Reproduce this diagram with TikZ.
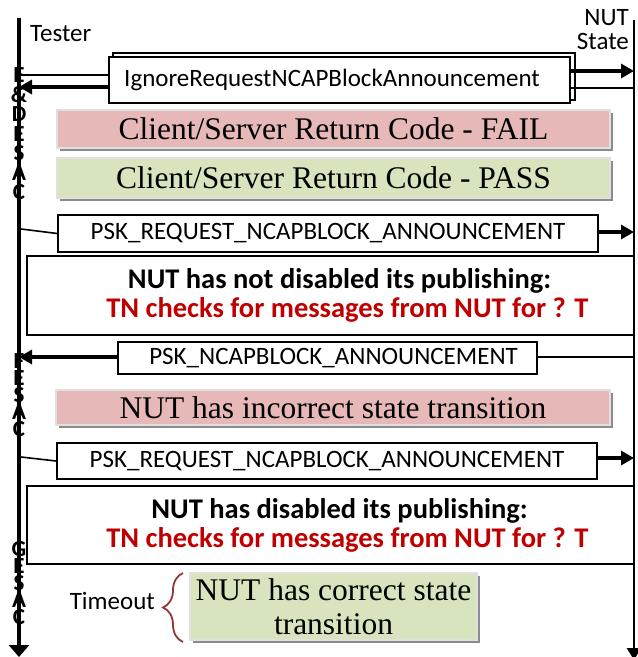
\documentclass[tikz,border=0pt]{standalone}
\usepackage{fontspec}
\setmainfont{Carlito}
\newfontfamily\serifface{Liberation Serif}
\usetikzlibrary{arrows.meta,shadows,decorations.pathreplacing}
\definecolor{failpink}{HTML}{E6B9B8}
\definecolor{passgreen}{HTML}{D7E4BD}
\definecolor{tnred}{HTML}{C00000}
\definecolor{bracered}{HTML}{953735}
\tikzset{
  msgbox/.style={draw, line width=1.6pt, fill=white, inner sep=0pt,
    font=\fontsize{25}{28}\selectfont},
  bigbox/.style={draw, line width=1.8pt, fill=white, inner sep=0pt, align=center,
    font=\bfseries\fontsize{28.5}{29}\selectfont},
  resbox/.style={draw=black!12, line width=1.5pt, inner sep=0pt, align=center,
    font=\serifface\fontsize{31.5}{34}\selectfont,
    drop shadow={shadow xshift=3pt, shadow yshift=-3pt, fill=black!45, opacity=1}},
  thkarrow/.style={line width=4pt, -{Triangle[length=13pt,width=14pt]}},
  thinline/.style={line width=1.6pt},
  casetxt/.style={align=center, inner sep=0pt, font=\bfseries\fontsize{23}{17}\selectfont},
  lifeline/.style={line width=4.5pt, -{Triangle[length=12pt,width=20pt]}},
  lbl/.style={inner sep=0pt, font=\fontsize{25}{24}\selectfont},
}
\begin{document}
\begin{tikzpicture}[x=1pt,y=-1pt]
\useasboundingbox (0,0) rectangle (638,657);
\fill[white] (0,0) rectangle (638,657);

% headers
\node[lbl, anchor=west] (tester) at (30,34) {Tester};
\node[lbl, anchor=east, align=right] (nut) at (629,30) {NUT\\State};

% lifeline coordinates
\coordinate (Ltop) at (19,18);
\coordinate (Lbot) at (19,657);
\coordinate (Rtop) at (634,20);
\coordinate (Rbot) at (634,660);

% case labels (behind the tester line)
\node[casetxt, font=\bfseries\fontsize{23}{19.5}\selectfont] (caseDE) at (19,134) {E\\\&\\D\\E\\S\\A\\C};
\node[casetxt] (caseF) at (19,395) {F\\E\\S\\A\\C};
\node[casetxt] (caseG) at (19,583) {G\\E\\S\\A\\C};

% IgnoreRequest message
\draw[line width=1.2pt] (113,53) rectangle (575,100);
\node[msgbox, line width=2.4pt, minimum width=461pt, minimum height=46pt] (ign) at (339.5,80) {IgnoreRequestNCAPBlockAnnouncement\hspace*{15pt}};
\coordinate (La) at (19,75);
\coordinate (Lb) at (19,87);
\coordinate (Ra) at (634,71);
\coordinate (Rb) at (634,88);
\draw[thinline] (La) -- (ign.west |- La);
\draw[thkarrow] (ign.west |- Lb) -- (Lb);
\draw[thkarrow] (ign.east |- Ra) -- (Ra);
\draw[thinline] (ign.east |- Rb) -- (Rb);

% return codes
\node[resbox, fill=failpink, minimum width=553pt, minimum height=38pt] (fail) at (333.5,129) {Client/Server Return Code - FAIL};
\node[resbox, fill=passgreen, minimum width=553pt, minimum height=40pt] (pass) at (333.5,178) {Client/Server Return Code - PASS};

% first request
\node[msgbox, minimum width=540pt, minimum height=37pt] (req1) at (328,233.5) {PSK\_REQUEST\_NCAPBLOCK\_ANNOUNCEMENT};
\coordinate (Lc) at (21,229);
\coordinate (Rc) at (634,232);
\draw[thinline] (Lc) -- (req1.west);
\draw[thkarrow] (req1.east |- Rc) -- (Rc);

\node[bigbox, minimum width=607pt, minimum height=79pt] (chk1) at (330.5,295.5)
  {\hspace*{18pt}NUT has not disabled its publishing:\\\hspace*{34pt}\textcolor{tnred}{TN checks for messages from NUT for ? T}};

% announcement
\node[msgbox, minimum width=419pt, minimum height=32pt] (ann) at (327.5,358) {\hspace*{12pt}PSK\_NCAPBLOCK\_ANNOUNCEMENT};
\coordinate (Ld) at (19,357);
\coordinate (Rd) at (634,357);
\draw[thkarrow] (ann.west |- Ld) -- (Ld);
\draw[thinline] (ann.east |- Rd) -- (Rd);

\node[resbox, fill=failpink, minimum width=554pt, minimum height=35pt] (incor) at (333,407.5) {NUT has incorrect state transition};

% second request
\node[msgbox, minimum width=540pt, minimum height=36pt] (req2) at (327,461) {PSK\_REQUEST\_NCAPBLOCK\_ANNOUNCEMENT};
\coordinate (Le) at (21,457);
\coordinate (Re) at (634,458);
\draw[thinline] (Le) -- (req2.west);
\draw[thkarrow] (req2.east |- Re) -- (Re);

\node[bigbox, minimum width=607pt, minimum height=78pt] (chk2) at (330.5,525)
  {\hspace*{18pt}NUT has disabled its publishing:\\\hspace*{34pt}\textcolor{tnred}{TN checks for messages from NUT for ? T}};

% timeout
\node[resbox, fill=passgreen, minimum width=287pt, minimum height=67pt] (cor) at (333.5,606.5) {NUT has correct state\\transition};
\coordinate (brB) at (183,642);
\coordinate (brT) at (183,573);
\draw[bracered, line width=1.8pt, decorate, decoration={brace, amplitude=20pt}] (brB) -- (brT);
\node[lbl, anchor=east] (tout) at (155,601) {Timeout};

% lifelines
\draw[line width=2.5pt, -{Triangle[length=12pt,width=14pt]}] (Rtop) -- (Rbot);
\draw[lifeline] (Ltop) -- (Lbot);
\end{tikzpicture}
\end{document}
